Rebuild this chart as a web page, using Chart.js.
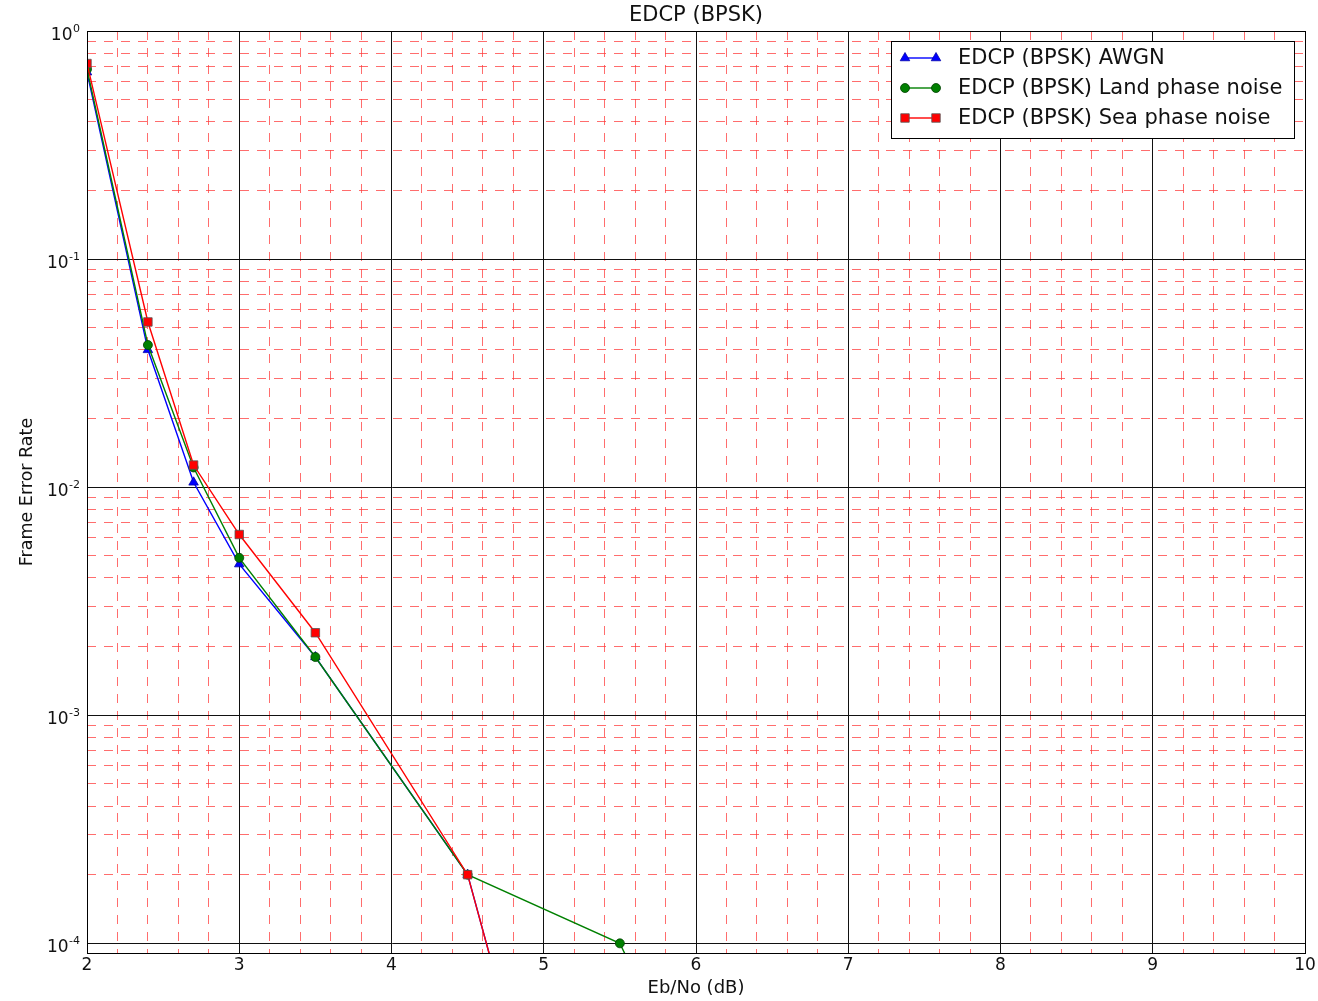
<!DOCTYPE html>
<html><head><meta charset="utf-8">
<script src="https://cdn.jsdelivr.net/npm/chart.js@4/dist/chart.umd.min.js"></script>
<style>html,body{margin:0;padding:0;background:#fff;} #wrap{width:1318px;height:1001px;}</style>
</head><body><div id="wrap"><canvas id="c" width="1318" height="1001"></canvas></div>
<script>
// ---- data ----
const ebnoAwgn = [2, 2.4, 2.7, 3, 3.5, 4.5, 5];
const ferAwgn  = [0.66, 0.040, 0.0105, 0.0046, 0.0018, 0.0002, 0.000012];
const ebnoLand = [2, 2.4, 2.7, 3, 3.5, 4.5, 5.5, 6];
const ferLand  = [0.68, 0.042, 0.0122, 0.0049, 0.0018, 0.0002, 0.0001, 0.00002];
const ebnoSea  = [2, 2.4, 2.7, 3, 3.5, 4.5, 5];
const ferSea   = [0.72, 0.053, 0.0125, 0.0062, 0.0023, 0.0002, 0.000012];
const seriesNames = ['EDCP (BPSK) AWGN', 'EDCP (BPSK) Land phase noise', 'EDCP (BPSK) Sea phase noise'];
const xTickLabels = ['2','3','4','5','6','7','8','9','10'];
const yDecadeExponents = [0, -1, -2, -3, -4];
const titleText = 'EDCP (BPSK)';
const xTitle = 'Eb/No (dB)';
const yTitle = 'Frame Error Rate';

const X_MIN = 2, X_MAX = 10, Y_MIN = 9.07e-5, Y_MAX = 1;
const FONT = '"DejaVu Sans", Verdana, sans-serif';
const TXT = '#111';

const xMinor = [];
for (let i = 0; i <= 40; i++) { if (i % 5 !== 0) xMinor.push(+(X_MIN + i * 0.2).toFixed(2)); }
const yMinor = [];
for (let d = -5; d <= -1; d++) for (let m = 2; m <= 9; m++) {
  const v = m * Math.pow(10, d);
  if (v > Y_MIN * 1.01 && v < Y_MAX) yMinor.push(v);
}

const styles = [
  {color:'#0000ff', point:'triangle', r:5.5, pb:'#0000aa'},
  {color:'#008000', point:'circle',   r:4.5, pb:'#004000'},
  {color:'#ff0000', point:'rect',     r:6,   pb:'#555555'}
];
const xs = [ebnoAwgn, ebnoLand, ebnoSea], ys = [ferAwgn, ferLand, ferSea];
const datasets = seriesNames.map((name, k) => ({
  label: name,
  data: xs[k].map((x, i) => ({x: x, y: ys[k][i]})),
  borderColor: styles[k].color,
  backgroundColor: styles[k].color,
  pointBackgroundColor: styles[k].color,
  pointBorderColor: styles[k].pb,
  pointBorderWidth: 0.8,
  pointStyle: styles[k].point,
  pointRadius: styles[k].r,
  borderWidth: 1.4,
  tension: 0,
  order: 2 - k,
  xAxisID: 'x', yAxisID: 'y'
}));

const deco = {
  id: 'deco',
  afterDatasetsDraw(chart) {
    const ctx = chart.ctx, a = chart.chartArea;
    ctx.save();
    ctx.strokeStyle = '#000'; ctx.lineWidth = 1;
    ctx.strokeRect(Math.round(a.left) + 0.5, Math.round(a.top) + 0.5,
                   Math.round(a.right - a.left), Math.round(a.bottom - a.top));
    ctx.restore();
  },
  afterDraw(chart) {
    const ctx = chart.ctx, a = chart.chartArea, sy = chart.scales.y, sx = chart.scales.x;
    ctx.save();
    ctx.fillStyle = TXT;
    // x tick labels
    ctx.font = '17px ' + FONT;
    ctx.textAlign = 'center'; ctx.textBaseline = 'middle';
    for (const t of xTickLabels) {
      ctx.fillText(t, sx.getPixelForValue(Number(t)), 966);
    }
    // y tick labels with superscripts
    for (const e of yDecadeExponents) {
      const py = sy.getPixelForValue(Math.pow(10, e));
      const es = String(e);
      ctx.font = '11px ' + FONT;
      ctx.textAlign = 'right'; ctx.textBaseline = 'alphabetic';
      const ew = ctx.measureText(es).width;
      ctx.fillText(es, 80, py + 0.5);
      ctx.font = '17px ' + FONT;
      ctx.fillText('10', 80 - ew - 0.5, py + 8.5);
    }
    // title
    ctx.textAlign = 'center'; ctx.textBaseline = 'middle';
    ctx.font = '21px ' + FONT;
    ctx.fillText(titleText, (a.left + a.right) / 2, 16);
    // x title
    ctx.font = '18px ' + FONT;
    ctx.fillText(xTitle, (a.left + a.right) / 2, 988);
    // y title
    ctx.save();
    ctx.font = '17.5px ' + FONT;
    ctx.translate(27, (a.top + a.bottom) / 2);
    ctx.rotate(-Math.PI / 2);
    ctx.fillText(yTitle, 0, 0);
    ctx.restore();
    // legend
    const L = {x: 891.5, y: 41.5, w: 403, h: 97};
    ctx.fillStyle = '#fff'; ctx.fillRect(L.x, L.y, L.w, L.h);
    ctx.strokeStyle = '#000'; ctx.lineWidth = 1; ctx.strokeRect(L.x, L.y, L.w, L.h);
    const rowY = [58, 88, 118];
    seriesNames.forEach((name, k) => {
      const st = styles[k], y = rowY[k];
      ctx.strokeStyle = st.color; ctx.lineWidth = 1.4;
      ctx.beginPath(); ctx.moveTo(905, y); ctx.lineTo(936, y); ctx.stroke();
      [905, 936].forEach(px => {
        ctx.fillStyle = st.color; ctx.strokeStyle = st.pb; ctx.lineWidth = 0.8;
        ctx.beginPath();
        if (st.point === 'triangle') {
          const r = st.r;
          ctx.moveTo(px, y - r); ctx.lineTo(px + r * 0.866, y + r * 0.5); ctx.lineTo(px - r * 0.866, y + r * 0.5); ctx.closePath();
        } else if (st.point === 'circle') {
          ctx.arc(px, y, st.r, 0, Math.PI * 2);
        } else {
          const s = st.r * Math.SQRT1_2; ctx.rect(px - s, y - s, 2 * s, 2 * s);
        }
        ctx.fill(); ctx.stroke();
      });
      ctx.fillStyle = TXT;
      ctx.font = '21px ' + FONT; ctx.textAlign = 'left'; ctx.textBaseline = 'middle';
      ctx.fillText(name, 958, y + 1);
    });
    ctx.restore();
  }
};

new Chart(document.getElementById('c'), {
  type: 'line',
  data: {datasets: datasets},
  options: {
    responsive: false, animation: false, devicePixelRatio: 1,
    layout: {padding: {top: 31, right: 13, left: 0, bottom: 0}},
    plugins: {legend: {display: false}, tooltip: {enabled: false}, title: {display: false}},
    scales: {
      x2: {
        type: 'linear', position: 'bottom', min: X_MIN, max: X_MAX, weight: 1,
        afterBuildTicks: s => { s.ticks = xMinor.map(v => ({value: v})); },
        afterFit: s => { s.height = 0; },
        grid: {color: 'rgba(255,60,60,0.75)', lineWidth: 1, drawTicks: false},
        border: {display: false, dash: [9, 8]},
        ticks: {display: false}
      },
      y2: {
        type: 'logarithmic', position: 'left', min: Y_MIN, max: Y_MAX, weight: 1,
        afterBuildTicks: s => { s.ticks = yMinor.map(v => ({value: v})); },
        afterFit: s => { s.width = 0; },
        grid: {color: 'rgba(255,60,60,0.75)', lineWidth: 1, drawTicks: false},
        border: {display: false, dash: [9, 8]},
        ticks: {display: false}
      },
      x: {
        type: 'linear', position: 'bottom', min: X_MIN, max: X_MAX, weight: 0,
        afterBuildTicks: s => { s.ticks = xTickLabels.map(t => ({value: Number(t)})); },
        afterFit: s => { s.height = 48; },
        grid: {color: '#111', lineWidth: 1, drawTicks: false},
        border: {display: true, color: '#000'},
        ticks: {display: false}
      },
      y: {
        type: 'logarithmic', position: 'left', min: Y_MIN, max: Y_MAX, weight: 0,
        afterBuildTicks: s => { s.ticks = yDecadeExponents.map(e => ({value: Math.pow(10, e)})); },
        afterFit: s => { s.width = 87; },
        grid: {color: '#111', lineWidth: 1, drawTicks: false},
        border: {display: true, color: '#000'},
        ticks: {display: false}
      }
    }
  },
  plugins: [deco]
});
</script></body></html>
